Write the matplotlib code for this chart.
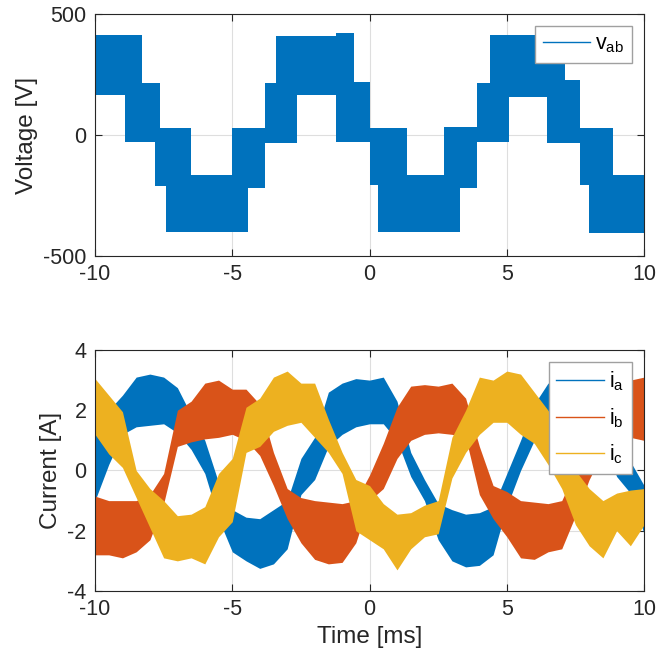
import matplotlib
matplotlib.use("Agg")
import matplotlib.pyplot as plt
from matplotlib.lines import Line2D

plt.rcParams["font.family"] = ["Liberation Sans", "DejaVu Sans"]
plt.rcParams["axes.unicode_minus"] = False
plt.rcParams["mathtext.default"] = "regular"

BLUE = "#0072BD"
RED = "#D95319"
YELLOW = "#EDB120"
TXT = "#262626"

# line-to-line voltage: PWM band, switching instants [ms] and band limits [V]
v_edges = [-10, -8.91, -8.30, -7.81, -7.63, -7.41, -6.51, -5.0, -4.41, -3.81,
           -3.41, -2.65, -1.22, -0.56, 0.0, 0.32, 1.38, 2.73, 3.30, 3.90,
           4.39, 5.08, 6.48, 7.12, 7.67, 8.01, 8.88, 10]
v_hi = [413, 413, 216, 216, 28, 28, -165, 28, 28, 216, 409, 409, 420, 220,
        28, 28, -165, 35, 35, 214, 413, 413, 413, 227, 28, 28, -165]
v_lo = [165, -27, -27, -211, -211, -400, -400, -400, -220, -34, -34, 165,
        -27, -27, -207, -400, -400, -400, -220, -27, -27, 158, -34, -34,
        -207, -406, -406]

# phase currents: envelope of the noisy trace [A]
t_ms = [-10, -9.5, -9, -8.5, -8, -7.5, -7, -6.5, -6, -5.5, -5, -4.5, -4,
        -3.5, -3, -2.5, -2, -1.5, -1, -0.5, 0, 0.5, 1, 1.5, 2, 2.5, 3, 3.5,
        4, 4.5, 5, 5.5, 6, 6.5, 7, 7.5, 8, 8.5, 9, 9.5, 10]

ia_hi = [1.3, 2.0, 2.5, 3.1, 3.2, 3.1, 2.75, 1.85, 1.0, -0.4, -1.3, -1.55,
         -1.6, -1.3, -1.0, 0.4, 1.1, 2.6, 2.9, 3.05, 3.0, 3.1, 2.3, 0.6, -0.3,
         -1.1, -1.3, -1.45, -1.4, -1.2, -0.1, 1.0, 2.2, 2.9, 2.9, 2.8, 2.6,
         2.2, 1.0, 0.3, -0.5]
ia_lo = [-1.0, 0.2, 1.2, 1.45, 1.5, 1.55, 1.25, 0.7, -0.1, -1.6, -2.7, -3.0,
         -3.25, -3.1, -2.6, -0.8, -0.3, 0.8, 1.2, 1.45, 1.55, 1.55, 1.0,
         -0.2, -1.0, -2.3, -3.0, -3.2, -3.15, -2.8, -1.2, 0.0, 1.0, 1.4, 1.4,
         1.4, 1.2, 0.9, -0.2, -0.75, -2.1]

ib_hi = [-0.85, -1.0, -1.0, -1.0, -0.8, -0.1, 2.0, 2.3, 2.9, 3.0, 2.7, 2.7,
         2.2, 0.6, -0.6, -0.9, -1.0, -1.05, -1.1, -1.0, -0.15, 0.9, 2.1, 2.8,
         2.85, 2.8, 2.9, 2.4, 0.8, -0.5, -0.7, -1.0, -1.05, -1.1, -1.0, 0.0,
         1.0, 2.0, 2.6, 3.0, 3.1]
ib_lo = [-2.8, -2.8, -2.9, -2.7, -2.3, -1.1, 0.8, 0.95, 1.05, 1.1, 1.2, 1.0,
         0.5, -0.5, -1.6, -2.4, -2.95, -3.1, -3.05, -2.4, -1.0, -0.6, 0.4,
         1.0, 1.2, 1.25, 1.2, 1.1, -0.8, -1.6, -2.2, -2.9, -2.95, -2.7, -2.6,
         -1.5, -0.3, 0.6, 1.0, 1.1, 1.0]

ic_hi = [3.05, 2.5, 1.95, 0.0, -0.6, -1.0, -1.5, -1.45, -1.2, -0.1, 0.4, 2.1,
         2.4, 3.1, 3.3, 2.9, 2.9, 1.7, 0.6, -0.3, -0.5, -1.1, -1.45, -1.4,
         -1.15, -1.0, 1.1, 2.0, 3.1, 3.0, 3.3, 3.2, 2.6, 2.0, 1.3, 0.0, -0.6,
         -1.0, -0.75, -0.65, -0.6]
ic_lo = [1.2, 0.55, 0.1, -0.9, -1.9, -2.9, -3.0, -2.9, -3.1, -2.2, -1.7, 0.6,
         0.8, 1.3, 1.5, 1.6, 1.1, 0.6, -0.1, -2.0, -2.3, -2.6, -3.3, -2.6,
         -2.2, -2.1, -0.25, 0.6, 1.2, 1.6, 1.6, 1.2, 0.9, 0.2, -0.6, -1.8,
         -2.5, -2.9, -2.0, -2.5, -1.8]


def style(ax):
    ax.set_xlim(-10, 10)
    ax.set_xticks([-10, -5, 0, 5, 10])
    ax.grid(True, color="#dedede", linewidth=0.8)
    ax.set_axisbelow(True)
    ax.tick_params(direction="in", length=5, width=0.8, colors=TXT,
                   labelsize=15.5, top=True, right=True, pad=6)
    for s in ax.spines.values():
        s.set_color(TXT)
        s.set_linewidth(0.8)


leg_kw = dict(loc="upper right", fontsize=15.5, frameon=True, fancybox=False,
              edgecolor="#a0a0a0", framealpha=1, handlelength=2.2,
              handletextpad=0.25, borderaxespad=0.56, borderpad=0.35)

fig = plt.figure(figsize=(6.68, 6.65), dpi=100)
ax1 = fig.add_axes([0.1422, 0.615, 0.822, 0.364])
ax2 = fig.add_axes([0.1422, 0.1113, 0.822, 0.3624])

ax1.fill_between(v_edges, v_lo + v_lo[-1:], v_hi + v_hi[-1:], step="post",
                 color=BLUE, linewidth=0)
ax1.set_ylim(-500, 500)
ax1.set_yticks([-500, 0, 500])
style(ax1)
ax1.set_ylabel("Voltage [V]", fontsize=17.5, color=TXT, labelpad=4)
leg1 = ax1.legend([Line2D([], [], color=BLUE, lw=1)], ["$v_{ab}$"], **leg_kw)
leg1.get_frame().set_linewidth(1.0)

for lo, hi, c in [(ia_lo, ia_hi, BLUE), (ib_lo, ib_hi, RED),
                  (ic_lo, ic_hi, YELLOW)]:
    ax2.fill_between(t_ms, lo, hi, color=c, linewidth=0)
ax2.set_ylim(-4, 4)
ax2.set_yticks([-4, -2, 0, 2, 4])
style(ax2)
ax2.set_ylabel("Current [A]", fontsize=17.5, color=TXT, labelpad=4)
ax2.set_xlabel("Time [ms]", fontsize=17.5, color=TXT, labelpad=4)
leg2 = ax2.legend([Line2D([], [], color=c, lw=1) for c in (BLUE, RED, YELLOW)],
                  ["$i_a$", "$i_b$", "$i_c$"], labelspacing=0.6, **leg_kw)
leg2.get_frame().set_linewidth(1.0)

fig.savefig("out.png", dpi=100)
